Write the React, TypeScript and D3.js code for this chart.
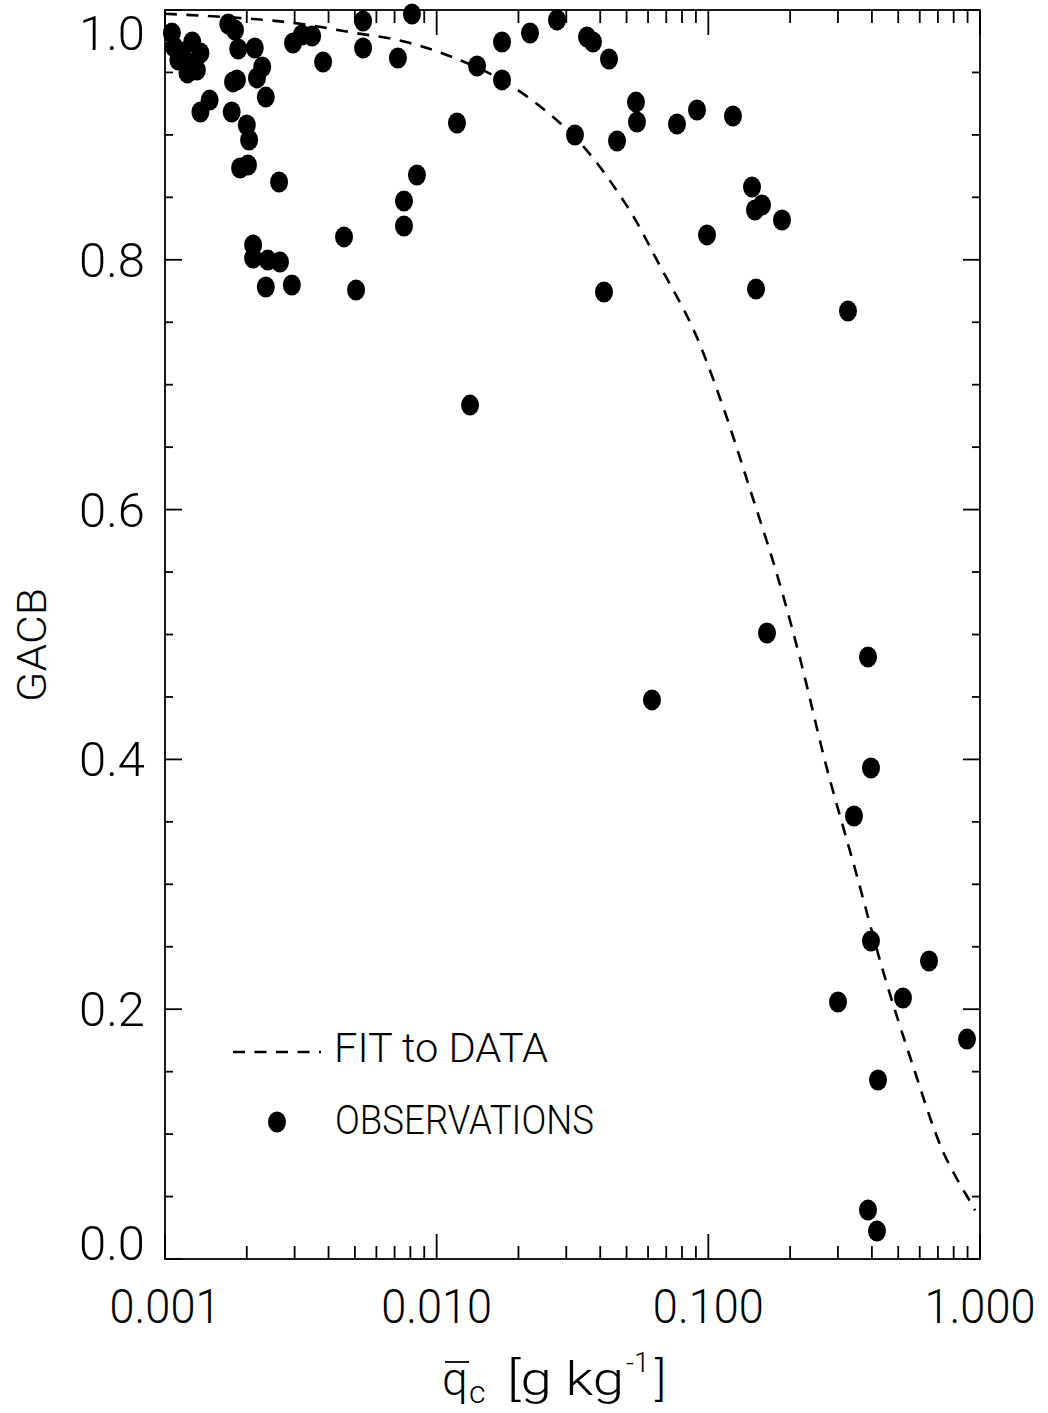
import React from "react";
import * as d3 from "d3";

// Observations: liquid water content q_c [g/kg] and GACB
const obsQ = [
  0.00106, 0.00108, 0.00115, 0.00126, 0.00135, 0.0012, 0.00128, 0.00121, 0.00131, 0.00112,
  0.00171, 0.00181, 0.00186, 0.00214, 0.00228, 0.00218, 0.00178, 0.00184, 0.00235, 0.00146,
  0.00135, 0.00176, 0.002, 0.00204, 0.00189, 0.00202, 0.00263, 0.00211, 0.00211, 0.00239,
  0.00265, 0.00235, 0.00293, 0.00456, 0.00505, 0.00296, 0.00319, 0.00348, 0.00382, 0.00536,
  0.00536, 0.0072, 0.00811, 0.00846, 0.00758, 0.00758, 0.01408, 0.0174, 0.02206, 0.02773,
  0.03576, 0.03762, 0.04309, 0.0174, 0.01188, 0.03229, 0.05415, 0.05462, 0.04612, 0.07666,
  0.09085, 0.1232, 0.1448, 0.1576, 0.1485, 0.1867, 0.09888, 0.0413, 0.1498, 0.3266,
  0.01327, 0.06201, 0.1644, 0.387, 0.3969, 0.3437, 0.3969, 0.6491, 0.3001, 0.5205,
  0.8956, 0.4213, 0.387, 0.4177,
];
const obsG = [
  0.9816, 0.9704, 0.9664, 0.9744, 0.9656, 0.9584, 0.9568, 0.9496, 0.952, 0.96,
  0.9888, 0.984, 0.9688, 0.9696, 0.9544, 0.9456, 0.9424, 0.944, 0.9303, 0.9279,
  0.9183, 0.9183, 0.9079, 0.8959, 0.8735, 0.8759, 0.8623, 0.8119, 0.8014, 0.7998,
  0.7982, 0.7782, 0.7798, 0.8183, 0.7758, 0.9736, 0.98, 0.9792, 0.9584, 0.9912,
  0.9696, 0.9616, 0.9968, 0.8679, 0.8471, 0.8271, 0.9552, 0.9744, 0.9816, 0.992,
  0.9784, 0.9744, 0.9608, 0.944, 0.9095, 0.8999, 0.9263, 0.9103, 0.8951, 0.9087,
  0.9199, 0.9151, 0.8583, 0.8439, 0.8399, 0.8319, 0.8199, 0.7742, 0.7766, 0.759,
  0.6837, 0.4476, 0.5012, 0.482, 0.3931, 0.3547, 0.2546, 0.2386, 0.2058, 0.209,
  0.1761, 0.1433, 0.0392, 0.0224,
];

// Fit curve
const fitQ = [0.001, 0.00206, 0.00314, 0.00488, 0.00752, 0.0115, 0.0186, 0.0323, 0.0502, 0.0664,
  0.0878, 0.113, 0.142, 0.179, 0.218, 0.273, 0.347, 0.439, 0.562, 0.731, 0.919, 0.959];
const fitG = [0.997, 0.993, 0.989, 0.982, 0.975, 0.962, 0.94, 0.898, 0.843, 0.795,
  0.745, 0.683, 0.617, 0.548, 0.48, 0.393, 0.312, 0.231, 0.157, 0.086, 0.046, 0.039];

const xMajorTicks = [0.001, 0.01, 0.1, 1];
const xTickLabels = ["0.001", "0.010", "0.100", "1.000"];
const yMajorTicks = [0, 0.2, 0.4, 0.6, 0.8, 1.0];
const yTickLabels = ["0.0", "0.2", "0.4", "0.6", "0.8", "1.0"];

const W = 1048;
const H = 1413;
const L = 165, R = 980, T = 10, B = 1259;
const FONT = "Roboto, 'DejaVu Sans', sans-serif";

export default function App() {
  const x = d3.scaleLog().domain([0.001, 1]).range([L, R]);
  const y = d3.scaleLinear().domain([0, 1]).range([B, T]);

  const xMinor: number[] = [];
  [0.001, 0.01, 0.1].forEach((d) => {
    for (let k = 2; k <= 9; k++) xMinor.push(d * k);
  });
  const yMinor = d3.range(0, 21).map((i) => i * 0.05).filter((v) => Math.abs(v * 5 - Math.round(v * 5)) > 1e-6);

  const fitData = fitQ.map((q, i) => [q, fitG[i]] as [number, number]);
  const line = d3
    .line<[number, number]>()
    .x((d) => x(d[0]))
    .y((d) => y(d[1]))
    .curve(d3.curveCatmullRom.alpha(0.5));

  const sw = 1.8;
  const rx = 9, ry = 10.5;

  return (
    <svg
      width={W}
      height={H}
      style={{ position: "absolute", left: 0, top: 0, background: "#fff" }}
      fontFamily={FONT}
    >
      <rect x={0} y={0} width={W} height={H} fill="#fff" />
      {/* frame */}
      <rect x={L} y={T} width={R - L} height={B - T} fill="none" stroke="#000" strokeWidth={sw} />
      {/* x ticks */}
      {xMajorTicks.map((v) => (
        <g key={"xm" + v}>
          <line x1={x(v)} x2={x(v)} y1={B} y2={B - 25} stroke="#000" strokeWidth={sw} />
          <line x1={x(v)} x2={x(v)} y1={T} y2={T + 25} stroke="#000" strokeWidth={sw} />
        </g>
      ))}
      {xMinor.map((v) => (
        <g key={"xn" + v}>
          <line x1={x(v)} x2={x(v)} y1={B} y2={B - 13} stroke="#000" strokeWidth={sw} />
          <line x1={x(v)} x2={x(v)} y1={T} y2={T + 13} stroke="#000" strokeWidth={sw} />
        </g>
      ))}
      {/* y ticks */}
      {yMajorTicks.map((v) => (
        <g key={"ym" + v}>
          <line x1={L} x2={L + 17} y1={y(v)} y2={y(v)} stroke="#000" strokeWidth={sw} />
          <line x1={R} x2={R - 17} y1={y(v)} y2={y(v)} stroke="#000" strokeWidth={sw} />
        </g>
      ))}
      {yMinor.map((v) => (
        <g key={"yn" + v}>
          <line x1={L} x2={L + 8} y1={y(v)} y2={y(v)} stroke="#000" strokeWidth={sw} />
          <line x1={R} x2={R - 8} y1={y(v)} y2={y(v)} stroke="#000" strokeWidth={sw} />
        </g>
      ))}
      {/* x tick labels */}
      {xMajorTicks.map((v, i) => (
        <text
          key={"xl" + v}
          x={x(v)}
          y={1323}
          textAnchor="middle"
          fontSize={48}
          fontWeight={300}
          textLength={111}
          lengthAdjust="spacingAndGlyphs"
        >
          {xTickLabels[i]}
        </text>
      ))}
      {/* y tick labels */}
      {yMajorTicks.map((v, i) => {
        const off = v === 0 ? -16 : v === 1 ? 23 : 0;
        return (
          <text
            key={"yl" + v}
            x={145}
            y={y(v) + off + 17}
            textAnchor="end"
            fontSize={48}
            fontWeight={300}
            textLength={66}
            lengthAdjust="spacingAndGlyphs"
          >
            {yTickLabels[i]}
          </text>
        );
      })}
      {/* axis titles */}
      <text
        transform={`translate(46,645) rotate(-90)`}
        textAnchor="middle"
        fontSize={40}
        fontWeight={300}
        textLength={114}
        lengthAdjust="spacingAndGlyphs"
      >
        GACB
      </text>
      <g fontWeight={300}>
        <line x1={445} x2={469} y1={1362} y2={1362} stroke="#000" strokeWidth={1.8} />
        <text x={442} y={1395} fontSize={46}>q</text>
        <text x={469} y={1403} fontSize={32}>c</text>
        <text x={507} y={1395} fontSize={46} textLength={117} lengthAdjust="spacingAndGlyphs">[g kg</text>
        <text x={626} y={1372} fontSize={28}>-1</text>
        <text x={655} y={1395} fontSize={46}>]</text>
      </g>
      {/* fit curve */}
      <path d={line(fitData) || ""} fill="none" stroke="#000" strokeWidth={2.6} strokeDasharray="12,9.5" />
      {/* observations */}
      {obsQ.map((q, i) => (
        <ellipse key={"o" + i} cx={x(q)} cy={y(obsG[i])} rx={rx} ry={ry} fill="#000" />
      ))}
      {/* legend */}
      <line x1={233} x2={321} y1={1052} y2={1052} stroke="#000" strokeWidth={2.6} strokeDasharray="12,9.5" />
      <text x={334} y={1062} fontSize={40} fontWeight={300} textLength={214} lengthAdjust="spacingAndGlyphs">
        FIT to DATA
      </text>
      <ellipse cx={277} cy={1122} rx={rx} ry={ry} fill="#000" />
      <text x={335} y={1134} fontSize={40} fontWeight={300} textLength={259} lengthAdjust="spacingAndGlyphs">
        OBSERVATIONS
      </text>
    </svg>
  );
}
